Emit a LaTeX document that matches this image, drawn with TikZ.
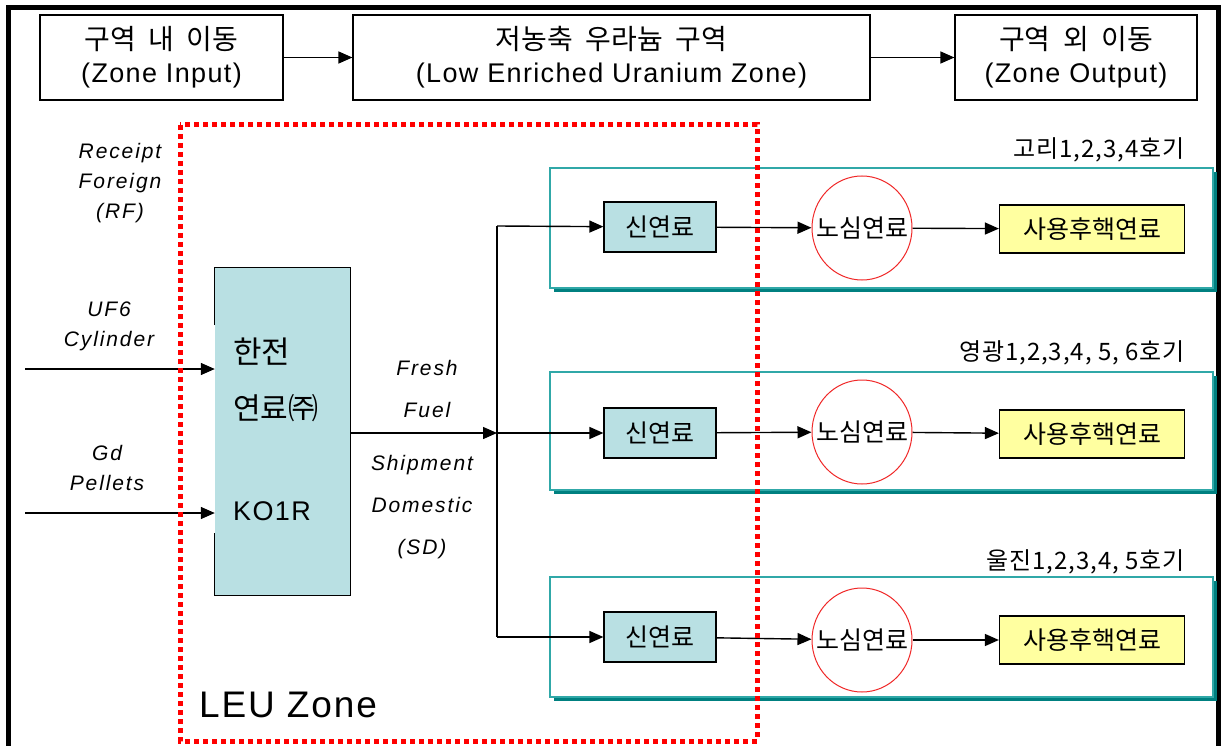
\documentclass[tikz,border=0pt]{standalone}
\usepackage{fontspec}
\setmainfont{Liberation Sans}
\newfontfamily\kr{Noto Sans CJK KR}
\newfontfamily\krhead[WordSpace=2]{Noto Sans CJK KR}
\newfontfamily\krwide[LetterSpace=4]{Noto Sans CJK KR}
\newfontfamily\latwide[LetterSpace=5]{Liberation Sans}
\newfontfamily\labwide[LetterSpace=9]{Liberation Sans}
\usetikzlibrary{positioning,arrows.meta,shapes.geometric,shadows}
\definecolor{FuelCyan}{RGB}{185,224,227}
\definecolor{PanelTeal}{RGB}{48,168,168}
\definecolor{PanelShade}{RGB}{0,128,128}
\definecolor{SpentYellow}{RGB}{255,255,160}
\definecolor{CoreRed}{RGB}{240,40,40}
\tikzset{
    flow/.style={line width=1.4pt,-{Triangle[length=14pt,width=12pt]}},
    bus/.style={line width=1.4pt},
    zonebox/.style={draw=black,line width=1.2pt,minimum height=85pt,align=center,inner sep=0pt,font=\latwide\fontsize{27}{33}\selectfont},
    leuzone/.style={draw=red,line width=5pt,dash pattern=on 5pt off 4pt},
    flowlabel/.style={align=center,inner sep=0pt,font=\labwide\fontsize{21}{30}\selectfont\itshape},
    plantpanel/.style={draw=PanelTeal,line width=1.2pt,fill=white,minimum width=663pt,drop shadow={shadow xshift=4pt,shadow yshift=-4pt,fill=PanelShade,opacity=1}},
    newfuel/.style={draw=black,line width=1.2pt,fill=FuelCyan,minimum width=112pt,minimum height=50pt,inner sep=0pt,font=\kr\fontsize{25}{28}\selectfont},
    corefuel/.style={ellipse,draw=CoreRed,line width=1pt,fill=white,minimum width=100pt,minimum height=104pt,inner sep=0pt,label={[font=\kr\fontsize{25}{28}\selectfont,inner sep=0pt]center:노심연료}},
    spentfuel/.style={draw=black,line width=1.2pt,fill=SpentYellow,minimum width=185pt,minimum height=48pt,inner sep=0pt,font=\kr\fontsize{25}{28}\selectfont},
    plantname/.style={anchor=east,inner sep=0pt,font=\krwide\fontsize{24}{26}\selectfont}
}
\begin{document}
\begin{tikzpicture}[x=1pt,y=-1pt]
		\useasboundingbox (0,0) rectangle (1224,746);
		% outer frame
		\draw[line width=5pt] (8,746) -- (8,8) -- (1218,8) -- (1218,746);
		% zone headers
		\node[zonebox,minimum width=243pt] (zin) at (161.5,57.5) {{\krhead\fontsize{28}{33}\selectfont 구역 내 이동}\\(Zone Input)};
		\node[zonebox,minimum width=517pt] (zleu) at (611.5,57.5) {{\krhead\fontsize{28}{33}\selectfont 저농축 우라늄 구역}\\(Low Enriched Uranium Zone)};
		\node[zonebox,minimum width=242pt] (zout) at (1076,57.5) {{\krhead\fontsize{28}{33}\selectfont 구역 외 이동}\\(Zone Output)};
		\draw[flow] (zin) -- (zleu);
		\draw[flow] (zleu) -- (zout);
		% inputs
		\node[flowlabel] (rf) at (120,183) {Receipt\\Foreign\\(RF)};
		\node[flowlabel] (uf6) at (109,326) {UF6\\Cylinder};
		\node[flowlabel] (gd) at (107,468) {Gd\\Pellets};
		\coordinate (uf6in) at (25,369);
		\coordinate (gdin) at (25,513);
		% fabrication plant
		\node[fill=FuelCyan,minimum width=135pt,minimum height=327pt,inner sep=0pt] (ko) at (282.5,431.5) {};
		\draw[line width=1.2pt] (ko.west |- 0,325) -- (ko.north west) -- (ko.north east) -- (ko.south east) -- (ko.south west) -- (ko.west |- 0,533);
		\node[anchor=west,inner sep=0pt,font=\kr\fontsize{31}{36}\selectfont] (koname) at (233,352) {한전};
		\node[anchor=west,inner sep=0pt,font=\kr\fontsize{30}{36}\selectfont] (kofirm) at (233,408) {연료㈜};
		\node[anchor=west,inner sep=0pt,font=\latwide\fontsize{27}{32}\selectfont] (kocode) at (233,511) {KO1R};
		\draw[flow] (uf6in) -- (uf6in -| ko.west);
		\draw[flow] (gdin) -- (gdin -| ko.west);
		% shipment to plants
		\coordinate (split) at (497,433);
		\coordinate (bustop) at (497,226);
		\coordinate (busbot) at (497,637);
		\draw[flow] (ko.east |- split) -- (split);
		\draw[bus] (bustop) -- (busbot);
		\node[flowlabel] (fresh) at (427,389) {Fresh\\[12pt]Fuel};
		\node[flowlabel] (sd) at (422,507) {Shipment\\[12pt]Domestic\\[12pt](SD)};
		% kori
		\node[plantpanel,minimum height=120pt] (panelA) at (881.5,228) {};
		\node[plantname] (nameA) at (1185,150) {고리1,2,3,4호기};
		\node[newfuel] (newA) at (660,227) {신연료};
		\node[corefuel] (coreA) at (862,228) {};
		\node[spentfuel] (spentA) at (1092,229) {사용후핵연료};
		\draw[flow] (bustop) -- (newA);
		\draw[flow] (newA) -- (coreA);
		\draw[flow] (coreA) -- (spentA);
		% yonggwang
		\node[plantpanel,minimum height=118pt] (panelB) at (881.5,431) {};
		\node[plantname] (nameB) at (1185,353) {영광1,2,3,4, 5, 6호기};
		\node[newfuel] (newB) at (660,433) {신연료};
		\node[corefuel] (coreB) at (862,432) {};
		\node[spentfuel] (spentB) at (1092,434) {사용후핵연료};
		\draw[flow] (split) -- (newB);
		\draw[flow] (newB) -- (coreB);
		\draw[flow] (coreB) -- (spentB);
		% uljin
		\node[plantpanel,minimum height=120pt] (panelC) at (881.5,637) {};
		\node[plantname] (nameC) at (1185,562) {울진1,2,3,4, 5호기};
		\node[newfuel] (newC) at (660,637) {신연료};
		\node[corefuel] (coreC) at (862,640) {};
		\node[spentfuel] (spentC) at (1092,640) {사용후핵연료};
		\draw[flow] (busbot) -- (newC);
		\draw[flow] (newC) -- (coreC);
		\draw[flow] (coreC) -- (spentC);
		% leu zone
		\draw[leuzone] (180,125) rectangle (757,741);
		\node[anchor=west,inner sep=0pt,font=\latwide\fontsize{37}{40}\selectfont] (leu) at (199,705) {LEU Zone};
\end{tikzpicture}
\end{document}
